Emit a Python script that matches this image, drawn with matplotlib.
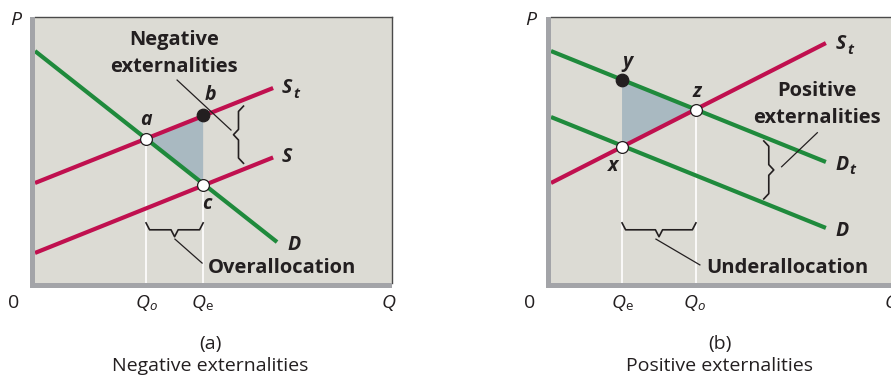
"""Negative and positive externalities, two supply/demand panels."""

import matplotlib
matplotlib.use("Agg")
import matplotlib.pyplot as plt
from matplotlib.patches import Rectangle, Polygon

W, H = 891, 376
BG = "#dcdbd4"
RED = "#c0104f"
GREEN = "#1f8a3c"
SHADE = "#a9b9c1"
FRAME = "#a3a4a8"
EDGE = "#4a4a4a"
TXT = "#231f20"
FONT = ["Open Sans", "DejaVu Sans"]

# ---- panel (a): negative externalities (Q, P in 0..100 units)
A_D = ([0, 67.8], [87.2, 15.4])
A_ST = ([0, 66.7], [37.6, 73.3])
A_S = ([0, 66.7], [11.3, 47.2])
A_POINT_A = (31.1, 54.0)
A_POINT_B = (47.1, 63.0)
A_POINT_C = (47.1, 36.8)

# ---- panel (b): positive externalities
B_DT = ([0, 77.0], [87.2, 45.5])
B_D = ([0, 77.0], [62.4, 20.7])
B_ST = ([0, 77.0], [37.6, 90.2])
B_POINT_Y = (19.9, 76.4)
B_POINT_X = (19.9, 51.2)
B_POINT_Z = (40.6, 65.1)

plt.rcParams["font.family"] = FONT

fig = plt.figure(figsize=(W / 100, H / 100), dpi=100)
fig.patch.set_facecolor("white")


def px_rect(x0, y0, x1, y1, **kw):
    fig.add_artist(Rectangle((x0 / W, 1 - y1 / H), (x1 - x0) / W, (y1 - y0) / H,
                             transform=fig.transFigure, **kw))


def px_text(x, y, s, **kw):
    fig.text(x / W, 1 - y / H, s, color=TXT, **kw)


def px_qlabel(x, y, sub, sub_style):
    # italic Q with a small subscript
    px_text(x, y, "Q", fontsize=14, fontstyle="italic", ha="center", va="center")
    px_text(x + 6.5, y + 4, sub, fontsize=9.5, fontstyle=sub_style, ha="left", va="center")


def make_panel(left_px, right_px):
    ax = fig.add_axes([left_px / W, (H - 283) / H, (right_px - left_px) / W, 266 / H])
    ax.set_xlim(0, 100)
    ax.set_ylim(0, 100)
    ax.set_facecolor(BG)
    ax.set_xticks([])
    ax.set_yticks([])
    for side in ("left", "bottom"):
        ax.spines[side].set_visible(False)
    for side in ("top", "right"):
        ax.spines[side].set_color(EDGE)
        ax.spines[side].set_linewidth(1.0)
    # thick gray strips on left and bottom
    px_rect(left_px - 5, 17, left_px, 288, color=FRAME, lw=0)
    px_rect(left_px - 5, 283, right_px, 288, color=FRAME, lw=0)
    return ax


def curve(ax, line, color):
    ax.plot(line[0], line[1], color=color, lw=3.0, solid_capstyle="butt", zorder=3)


def dot(ax, pt, filled=False):
    ax.plot(*pt, marker="o", ms=9 if filled else 8.5, mfc=TXT if filled else "white",
            mec=TXT, mew=0.9, zorder=6)


def drop(ax, pt):
    ax.plot([pt[0], pt[0]], [0, pt[1]], color="white", lw=1.2, zorder=2)


def hbrace(ax, x0, x1, y, h=2.6):
    xm = (x0 + x1) / 2
    ax.plot([x0, x0 + 1, xm - 1, xm, xm + 1, x1 - 1, x1],
            [y + h, y, y, y - h, y, y, y + h], color=TXT, lw=1.2, zorder=4)


def vbrace(ax, x, y0, y1, direction, w=1.4):
    ym = (y0 + y1) / 2
    d = direction
    ax.plot([x + d * w, x, x, x - d * w, x, x, x + d * w],
            [y0, y0 + 2, ym - 2, ym, ym + 2, y1 - 2, y1], color=TXT, lw=1.2, zorder=4)


lab = dict(fontsize=14, fontweight="bold", fontstyle="italic", color=TXT)
bold = dict(fontsize=14.5, fontweight="bold", color=TXT)


def curve_label(ax, x, y, main, sub=None):
    ax.text(x, y, main, ha="left", va="center", **lab)
    if sub:
        dx = 10.0 if main == "D" else 8.0
        ax.annotate(sub, xy=(x, y), xytext=(dx, -4), textcoords="offset points",
                    ha="left", va="center", fontsize=10.5, fontweight="bold",
                    fontstyle="italic", color=TXT)


# ================= panel (a)
ax1 = make_panel(35, 392)
drop(ax1, A_POINT_A)
drop(ax1, A_POINT_C)
ax1.add_patch(Polygon([A_POINT_A, A_POINT_B, A_POINT_C], closed=True,
                      color=SHADE, lw=0, zorder=2))
curve(ax1, A_ST, RED)
curve(ax1, A_S, RED)
curve(ax1, A_D, GREEN)
dot(ax1, A_POINT_A)
dot(ax1, A_POINT_C)
dot(ax1, A_POINT_B, filled=True)

ax1.text(A_POINT_A[0], A_POINT_A[1] + 3.5, "a", ha="center", va="bottom", **lab)
ax1.text(A_POINT_B[0] + 2, A_POINT_B[1] + 4, "b", ha="center", va="bottom", **lab)
ax1.text(A_POINT_C[0] + 1, A_POINT_C[1] - 3.5, "c", ha="center", va="top", **lab)
curve_label(ax1, A_ST[0][1] + 2.5, A_ST[1][1], "S", "t")
curve_label(ax1, A_S[0][1] + 2.5, A_S[1][1], "S")
curve_label(ax1, A_D[0][1] + 3, A_D[1][1] - 1, "D")

ax1.text(38.9, 91.5, "Negative", ha="center", va="center", **bold)
ax1.text(38.9, 81.2, "externalities", ha="center", va="center", **bold)
ax1.plot([39.8, 54.9], [76.3, 57.5], color=TXT, lw=0.9, zorder=5)
vbrace(ax1, 57.0, 45.0, 66.5, direction=1)
hbrace(ax1, A_POINT_A[0], A_POINT_C[0], 20.0)
ax1.plot([39.2, 46.8], [16.5, 7.5], color=TXT, lw=0.9, zorder=5)
ax1.text(48.4, 5.6, "Overallocation", ha="left", va="center", **bold)

# ================= panel (b)
ax2 = make_panel(551, 908)
drop(ax2, B_POINT_X)
drop(ax2, B_POINT_Z)
ax2.add_patch(Polygon([B_POINT_Y, B_POINT_Z, B_POINT_X], closed=True,
                      color=SHADE, lw=0, zorder=2))
curve(ax2, B_DT, GREEN)
curve(ax2, B_D, GREEN)
curve(ax2, B_ST, RED)
dot(ax2, B_POINT_X)
dot(ax2, B_POINT_Z)
dot(ax2, B_POINT_Y, filled=True)

ax2.text(B_POINT_Y[0] + 1.5, B_POINT_Y[1] + 3, "y", ha="center", va="bottom", **lab)
ax2.text(B_POINT_Z[0] + 0.3, B_POINT_Z[1] + 3, "z", ha="center", va="bottom", **lab)
ax2.text(B_POINT_X[0] - 2.5, B_POINT_X[1] - 3.5, "x", ha="center", va="top", **lab)
curve_label(ax2, B_ST[0][1] + 2.8, B_ST[1][1] - 0.5, "S", "t")
curve_label(ax2, B_DT[0][1] + 2.8, B_DT[1][1] - 1, "D", "t")
curve_label(ax2, B_D[0][1] + 2.8, B_D[1][1] - 1, "D")

ax2.text(74.4, 72.2, "Positive", ha="center", va="center", **bold)
ax2.text(74.4, 62.0, "externalities", ha="center", va="center", **bold)
ax2.plot([64.6, 74.6], [43.7, 56.5], color=TXT, lw=0.9, zorder=5)
vbrace(ax2, 61.0, 31.6, 53.4, direction=-1)
hbrace(ax2, B_POINT_X[0], B_POINT_Z[0], 20.0)
ax2.plot([29.4, 41.7], [16.5, 6.8], color=TXT, lw=0.9, zorder=5)
ax2.text(43.4, 5.6, "Underallocation", ha="left", va="center", **bold)

# ================= axis labels and captions
ital = dict(fontsize=14, fontstyle="italic", ha="center", va="center")
reg = dict(fontsize=14, ha="center", va="center")
px_text(16, 20, "P", **ital)
px_text(14, 303, "0", **reg)
px_qlabel(143, 303, "o", "italic")
px_qlabel(199, 303, "e", "normal")
px_text(389, 303, "Q", **ital)
px_text(210, 344, "(a)", **reg)
px_text(210, 366, "Negative externalities", **reg)

px_text(531, 20, "P", **ital)
px_text(530, 303, "0", **reg)
px_qlabel(619, 303, "e", "normal")
px_qlabel(691, 303, "o", "italic")
px_text(892, 303, "Q", **ital)
px_text(720, 344, "(b)", **reg)
px_text(720, 366, "Positive externalities", **reg)

fig.savefig("out.png", dpi=100)
